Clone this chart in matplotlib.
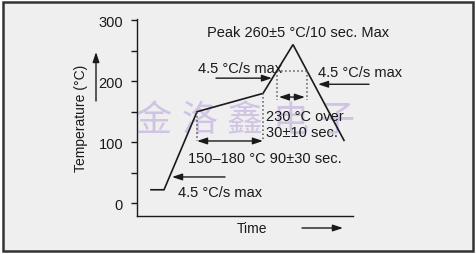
import numpy as np
import matplotlib
matplotlib.use('Agg')
import matplotlib.pyplot as plt
from matplotlib.patches import Rectangle

plt.rcParams['font.family'] = ['Liberation Sans', 'DejaVu Sans']

# reflow profile (time in arbitrary units, temperature in C)
tiempo = [14, 27, 60, 126, 156, 207]
temperatura = [22, 22, 150, 180, 260, 103]

y_ticks = [0, 100, 200, 300]
y_minor = [50, 150, 250]

nivel_230 = 217
preheat_fin = 102
reflow_fin = 170

marca_agua = ['金', '洛', '鑫', '电', '子']

texto_color = '#1a1a1a'

fig = plt.figure(figsize=(4.76, 2.55), dpi=100)
fig.patch.set_facecolor('white')

# frame
marco = Rectangle((2.5 / 476, 3 / 255), 470 / 476, 249 / 255, transform=fig.transFigure,
                  facecolor='#efefef', edgecolor='#333333', linewidth=1.8, zorder=-2)
fig.patches.append(marco)

# watermark
for i, letra in enumerate(marca_agua):
    fig.text((154 + i * 45.5) / 476, 1 - 121 / 255, letra, family=['Noto Sans CJK SC'], fontsize=26,
             color='#cdbfe3', alpha=0.9, ha='center', va='center', zorder=-1)

ax = fig.add_axes([137 / 476, 1 - 217 / 255, 216 / 476, 197 / 255])
ax.patch.set_visible(False)
ax.set_xlim(0, 216)
ax.set_ylim(-21, 302)

ax.plot(tiempo, temperatura, color=texto_color, lw=1.2, solid_joinstyle='miter')

# dotted guide lines
x_pre1, x_pre2 = tiempo[2], tiempo[3]
ax.plot([x_pre1, x_pre1], [temperatura[2], preheat_fin], ls=':', color='#555555', lw=1.1)
ax.plot([x_pre2, x_pre2], [temperatura[3], preheat_fin], ls=':', color='#555555', lw=1.1)

x_230a = np.interp(nivel_230, temperatura[3:5], tiempo[3:5])
x_230b = np.interp(-nivel_230, [-t for t in temperatura[4:6]], tiempo[4:6])
ax.plot([x_230a, x_230b], [nivel_230, nivel_230], ls=':', color='#555555', lw=1.1)
ax.plot([x_230a, x_230a], [nivel_230, reflow_fin], ls=':', color='#555555', lw=1.1)
ax.plot([x_230b, x_230b], [nivel_230, reflow_fin], ls=':', color='#555555', lw=1.1)

flecha = dict(arrowstyle='-|>,head_length=0.6,head_width=0.2', color=texto_color, lw=1.0,
              shrinkA=0, shrinkB=0)
flecha2 = dict(arrowstyle='<|-|>,head_length=0.6,head_width=0.2', color=texto_color, lw=1.0,
               shrinkA=0, shrinkB=0)

ax.annotate('', xy=(x_pre1, preheat_fin), xytext=(x_pre2, preheat_fin), arrowprops=flecha2)
ax.annotate('', xy=(x_230a + 2, reflow_fin + 4), xytext=(x_230b - 2, reflow_fin + 4), arrowprops=flecha2)

ax.annotate('', xy=(135, 205), xytext=(79, 205), arrowprops=flecha, annotation_clip=False)
ax.annotate('', xy=(181, 195), xytext=(232, 195), arrowprops=flecha, annotation_clip=False)
ax.annotate('', xy=(35, 43), xytext=(88, 43), arrowprops=flecha, annotation_clip=False)

fs = 10.5
ax.text(70, 280, 'Peak 260±5 °C/10 sec. Max', fontsize=fs, color=texto_color, va='center', clip_on=False)
ax.text(61, 221, '4.5 °C/s max', fontsize=fs, color=texto_color, va='center')
ax.text(181, 215, '4.5 °C/s max', fontsize=fs, color=texto_color, va='center', clip_on=False)
ax.text(51, 74, '150–180 °C 90±30 sec.', fontsize=fs, color=texto_color, va='center')
ax.text(129, 143, '230 °C over', fontsize=fs, color=texto_color, va='center')
ax.text(129, 116, '30±10 sec.', fontsize=fs, color=texto_color, va='center')
ax.text(41, 18, '4.5 °C/s max', fontsize=fs, color=texto_color, va='center')

# axes styling
for lado in ['top', 'right']:
    ax.spines[lado].set_visible(False)
for lado in ['left', 'bottom']:
    ax.spines[lado].set_color(texto_color)
    ax.spines[lado].set_linewidth(1.0)
ax.set_xticks([])
ax.set_yticks(y_ticks)
ax.set_yticks(y_minor, minor=True)
ax.tick_params(axis='y', which='both', direction='out', length=4, width=1.0, color=texto_color,
               labelsize=fs, labelcolor=texto_color, pad=6)

fig.text(81 / 476, 1 - 118 / 255, 'Temperature (°C)', rotation=90, fontsize=10, color=texto_color,
         ha='center', va='center')
fig.text(252 / 476, 1 - 229 / 255, 'Time', fontsize=10, color=texto_color, ha='center', va='center')

ax.annotate('', xy=(96 / 476, 1 - 53 / 255), xytext=(96 / 476, 1 - 102 / 255), xycoords='figure fraction',
            textcoords='figure fraction', arrowprops=flecha)
ax.annotate('', xy=(343 / 476, 1 - 229 / 255), xytext=(302 / 476, 1 - 229 / 255), xycoords='figure fraction',
            textcoords='figure fraction', arrowprops=flecha)

fig.savefig('out.png', dpi=100)
